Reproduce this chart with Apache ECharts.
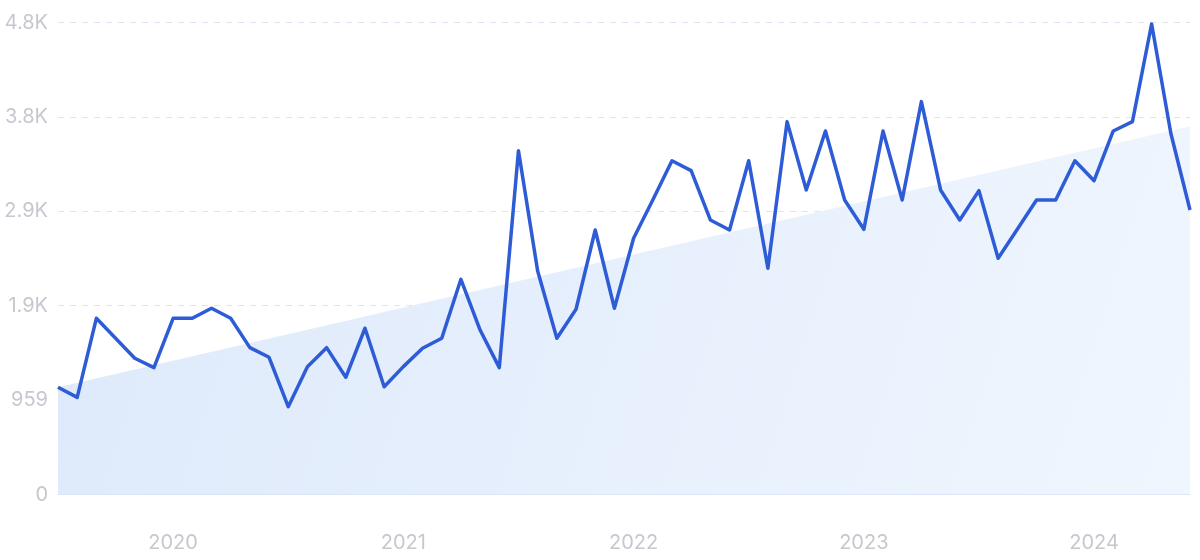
<!DOCTYPE html>
<html>
<head>
<meta charset="utf-8">
<style>
html,body{margin:0;padding:0;background:#fff;}
#chart{width:1200px;height:560px;}
</style>
<script src="https://cdn.jsdelivr.net/npm/echarts@6/dist/echarts.min.js"></script>
</head>
<body>
<div id="chart"></div>
<script>
const months = [
  "2019-07","2019-08","2019-09","2019-10","2019-11","2019-12",
  "2020-01","2020-02","2020-03","2020-04","2020-05","2020-06","2020-07","2020-08","2020-09","2020-10","2020-11","2020-12",
  "2021-01","2021-02","2021-03","2021-04","2021-05","2021-06","2021-07","2021-08","2021-09","2021-10","2021-11","2021-12",
  "2022-01","2022-02","2022-03","2022-04","2022-05","2022-06","2022-07","2022-08","2022-09","2022-10","2022-11","2022-12",
  "2023-01","2023-02","2023-03","2023-04","2023-05","2023-06","2023-07","2023-08","2023-09","2023-10","2023-11","2023-12",
  "2024-01","2024-02","2024-03","2024-04","2024-05","2024-06"
];
const searches = [
  1089, 987, 1790, 1587, 1384, 1289,
  1790, 1790, 1892, 1790, 1492, 1394, 892, 1299, 1492, 1191, 1689, 1095,
  1299, 1485, 1587, 2186, 1671, 1289, 3493, 2270, 1587, 1882, 2687, 1892,
  2603, 2992, 3391, 3290, 2789, 2687, 3391, 2298, 3788, 3094, 3693, 2992,
  2694, 3693, 2992, 3991, 3094, 2789, 3087, 2400, 2694, 2992, 2992, 3391,
  3188, 3693, 3788, 4780, 3670, 2890
];
// trend line end points: [month index, value]
const trendPoints = [[0, 1090], [59, 3740]];
const yTicks = [0, 959, 1918, 2877, 3836, 4795];

const chart = echarts.init(document.getElementById('chart'));
const labelFont = 'Inter, "Noto Sans", sans-serif';
chart.setOption({
  animation: false,
  grid: {left: 58, right: 10, top: 22.5, bottom: 65.5},
  xAxis: [{
    type: 'category',
    data: months,
    boundaryGap: false,
    axisLine: {show: true, lineStyle: {color: '#d6e3f6', width: 1}},
    axisTick: {show: false},
    splitLine: {show: false},
    axisLabel: {
      interval: (i, v) => v.endsWith('-01'),
      formatter: v => v.slice(0, 4),
      color: '#c6c8cf',
      fontFamily: labelFont,
      fontSize: 20,
      margin: 38
    }
  }, {
    type: 'value',
    min: 0,
    max: months.length - 1,
    show: false
  }],
  yAxis: {
    type: 'value',
    min: yTicks[0],
    max: yTicks[yTicks.length - 1],
    interval: yTicks[1],
    axisLine: {show: false},
    axisTick: {show: false},
    splitLine: {show: true, lineStyle: {color: '#dde5f2', type: [6, 6], width: 1}},
    axisLabel: {
      formatter: v => v >= 1000 ? (v / 1000).toFixed(1) + 'K' : String(v),
      color: '#c6c8cf',
      fontFamily: labelFont,
      fontSize: 20,
      margin: 10
    }
  },
  series: [{
    type: 'line',
    xAxisIndex: 1,
    data: trendPoints,
    symbol: 'none',
    lineStyle: {width: 0, opacity: 0},
    areaStyle: {
      opacity: 1,
      color: new echarts.graphic.LinearGradient(0, 0, 1, 1, [
        {offset: 0, color: '#dde9fb'},
        {offset: 1, color: '#f0f6fe'}
      ])
    },
    z: 1,
    silent: true
  }, {
    type: 'line',
    data: searches,
    symbol: 'none',
    lineStyle: {color: '#2d5cd6', width: 3.5, join: 'round'},
    z: 3
  }]
});
</script>
</body>
</html>
